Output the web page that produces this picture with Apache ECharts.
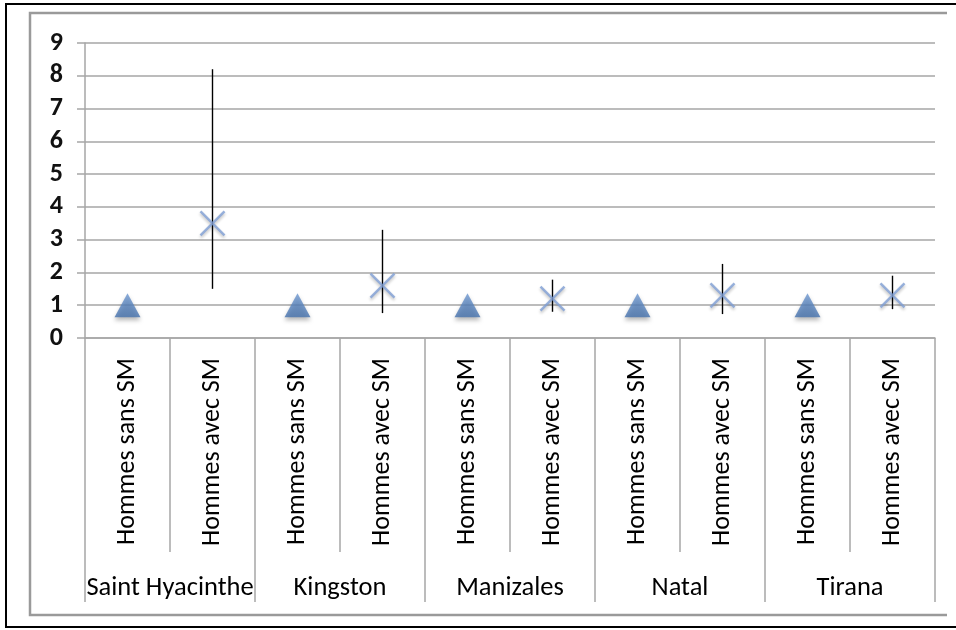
<!DOCTYPE html>
<html>
<head>
<meta charset="utf-8">
<script src="https://cdn.jsdelivr.net/npm/echarts@6/dist/echarts.min.js"></script>
<style>
  html, body { margin: 0; padding: 0; background: #fff; }
  #chart { width: 956px; height: 630px; }
</style>
</head>
<body>
<div id="chart"></div>
<script>
// Relative risk per city: men without / with SM, with confidence intervals
const categories = [
  'Hommes sans SM', 'Hommes avec SM',
  'Hommes sans SM', 'Hommes avec SM',
  'Hommes sans SM', 'Hommes avec SM',
  'Hommes sans SM', 'Hommes avec SM',
  'Hommes sans SM', 'Hommes avec SM'
];
const cities = ['Saint Hyacinthe', 'Kingston', 'Manizales', 'Natal', 'Tirana'];
const sansSM = [1, 1, 1, 1, 1];
const avecSM = [3.5, 1.6, 1.2, 1.3, 1.3];
const avecLow = [1.5, 0.76, 0.8, 0.73, 0.88];
const avecHigh = [8.2, 3.3, 1.78, 2.26, 1.9];
const yTicks = [0, 1, 2, 3, 4, 5, 6, 7, 8, 9];

const FONT = 'Carlito, Lato, "Liberation Sans", sans-serif';
const GRID = '#a6a6a6';

const sansData = sansSM.map((v, i) => [i * 2, v]);
const avecData = avecSM.map((v, i) => [i * 2 + 1, v]);
const barData = avecSM.map((v, i) => [i * 2 + 1, avecLow[i], avecHigh[i]]);

const chart = echarts.init(document.getElementById('chart'));
chart.setOption({
  animation: false,
  backgroundColor: '#ffffff',
  grid: { left: 85, right: 21, top: 43, bottom: 292, containLabel: false },
  graphic: [
    {
      type: 'polyline', silent: true, z: -1,
      shape: { points: [[956, 4], [6, 4], [6, 627], [956, 627]] },
      style: { fill: 'none', stroke: '#000', lineWidth: 2 }
    },
    {
      type: 'polyline', silent: true, z: -1,
      shape: { points: [[947, 13], [30, 13], [30, 615], [947, 615]] },
      style: { fill: 'none', stroke: '#9a9a9a', lineWidth: 2.5 }
    }
  ],
  xAxis: [
    {
      type: 'category',
      data: categories,
      position: 'bottom',
      boundaryGap: true,
      axisLine: { show: true, lineStyle: { color: GRID, width: 1.5 } },
      axisTick: { show: true, interval: 0, length: 214, lineStyle: { color: GRID, width: 1.5 } },
      axisLabel: {
        interval: 0, rotate: 90, margin: 20,
        fontFamily: FONT, fontSize: 26, color: '#000'
      },
      splitLine: { show: false }
    },
    {
      type: 'category',
      data: cities,
      position: 'bottom',
      boundaryGap: true,
      axisLine: { show: false },
      axisTick: { show: true, interval: 0, length: 264, lineStyle: { color: GRID, width: 1.5 } },
      axisLabel: {
        interval: 0, margin: 237,
        fontFamily: FONT, fontSize: 26.5, color: '#000'
      },
      splitLine: { show: false }
    }
  ],
  yAxis: {
    type: 'value',
    min: yTicks[0],
    max: yTicks[yTicks.length - 1],
    interval: 1,
    axisLine: { show: true, lineStyle: { color: GRID, width: 1.5 } },
    axisTick: { show: true, length: 8, lineStyle: { color: GRID, width: 1.5 } },
    axisLabel: {
      margin: 22, fontFamily: FONT, fontSize: 26, fontWeight: 'bold', color: '#111'
    },
    splitLine: { show: true, lineStyle: { color: GRID, width: 1.5 } }
  },
  series: [
    {
      name: 'IC',
      type: 'custom',
      xAxisIndex: 0,
      data: barData,
      z: 2,
      renderItem: function (params, api) {
        const x = api.value(0);
        const p1 = api.coord([x, api.value(1)]);
        const p2 = api.coord([x, api.value(2)]);
        return {
          type: 'line',
          shape: { x1: p1[0], y1: p1[1], x2: p2[0], y2: p2[1] },
          style: { stroke: '#000', lineWidth: 1.4 }
        };
      }
    },
    {
      name: 'Hommes sans SM',
      type: 'scatter',
      xAxisIndex: 0,
      data: sansData,
      symbol: 'triangle',
      symbolSize: [26, 24],
      z: 3,
      itemStyle: {
        color: new echarts.graphic.LinearGradient(0, 0, 0, 1, [
          { offset: 0, color: '#6d97d0' },
          { offset: 1, color: '#4471ad' }
        ]),
        shadowBlur: 4,
        shadowOffsetY: 3,
        shadowColor: 'rgba(0,0,0,0.35)'
      }
    },
    {
      name: 'Hommes avec SM',
      type: 'scatter',
      xAxisIndex: 0,
      data: avecData,
      symbol: 'path://M0,0L10,10M10,0L0,10',
      symbolSize: 24,
      z: 4,
      itemStyle: {
        color: 'rgba(0,0,0,0)',
        borderColor: '#7f9fd4',
        borderWidth: 2.5,
        shadowBlur: 3,
        shadowOffsetY: 2,
        shadowColor: 'rgba(0,0,0,0.3)'
      }
    }
  ]
});
</script>
</body>
</html>
